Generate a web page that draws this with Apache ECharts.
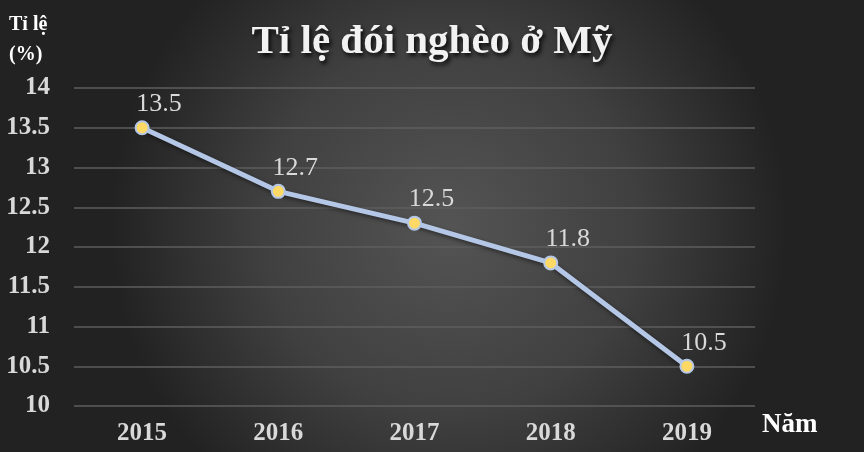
<!DOCTYPE html>
<html>
<head>
<meta charset="utf-8">
<script src="https://cdn.jsdelivr.net/npm/echarts@6/dist/echarts.min.js"></script>
<style>html,body{margin:0;padding:0;}#c{width:864px;height:452px;}</style>
</head>
<body>
<div id="c"></div>
<script>
const years = ['2015', '2016', '2017', '2018', '2019'];
const rates = [13.5, 12.7, 12.3, 11.8, 10.5];
const rateLabels = ['13.5', '12.7', '12.5', '11.8', '10.5'];
const yTicks = [10, 10.5, 11, 11.5, 12, 12.5, 13, 13.5, 14];
const yName = 'Tỉ lệ\n(%)';
const xName = 'Năm';

const chart = echarts.init(document.getElementById('c'));
const font = '"Liberation Serif", "Times New Roman", serif';
chart.setOption({
  backgroundColor: {
    type: 'radial', x: 0.52, y: 0.5, r: 0.75,
    colorStops: [{offset: 0, color: '#545454'}, {offset: 0.55, color: '#404040'}, {offset: 1, color: '#222222'}]
  },
  title: {
    text: 'Tỉ lệ đói nghèo ở Mỹ',
    left: 'center', top: 17,
    textStyle: {
      fontFamily: font, fontWeight: 'bold', fontSize: 41, color: '#f2f2f2',
      textShadowColor: 'rgba(0,0,0,0.85)', textShadowBlur: 4, textShadowOffsetX: 2, textShadowOffsetY: 3
    }
  },
  graphic: [
    {type: 'text', left: 9, top: 10, style: {text: yName, font: 'bold 20px ' + font, fill: '#ffffff', lineHeight: 30}},
    {type: 'text', left: 762, top: 412, style: {text: xName, font: 'bold 27px ' + font, fill: '#ffffff'}}
  ],
  grid: {left: 74, right: 109, top: 88, bottom: 46, containLabel: false},
  xAxis: {
    type: 'category', data: years, boundaryGap: true,
    axisLine: {show: false}, axisTick: {show: false},
    axisLabel: {fontFamily: font, fontWeight: 'bold', fontSize: 25, color: '#d9d9d9', margin: 15}
  },
  yAxis: {
    type: 'value', min: 10, max: 14, interval: 0.5,
    axisLine: {show: false}, axisTick: {show: false},
    splitLine: {lineStyle: {color: '#5e5e5e', width: 1.5}},
    axisLabel: {fontFamily: font, fontWeight: 'bold', fontSize: 25, color: '#d9d9d9', margin: 24,
      formatter: v => yTicks.includes(v) ? String(v) : ''}
  },
  series: [{
    type: 'line', data: rates,
    symbol: 'circle', symbolSize: 13,
    lineStyle: {color: '#b4c7e7', width: 5, shadowColor: 'rgba(0,0,0,0.5)', shadowBlur: 4, shadowOffsetX: 1, shadowOffsetY: 2},
    itemStyle: {color: '#ffd966', borderColor: '#b4c7e7', borderWidth: 2},
    label: {
      show: true, position: 'top', distance: 3, offset: [17, 0],
      fontFamily: font, fontSize: 26, color: '#d9d9d9',
      formatter: p => rateLabels[p.dataIndex]
    }
  }]
});
</script>
</body>
</html>
